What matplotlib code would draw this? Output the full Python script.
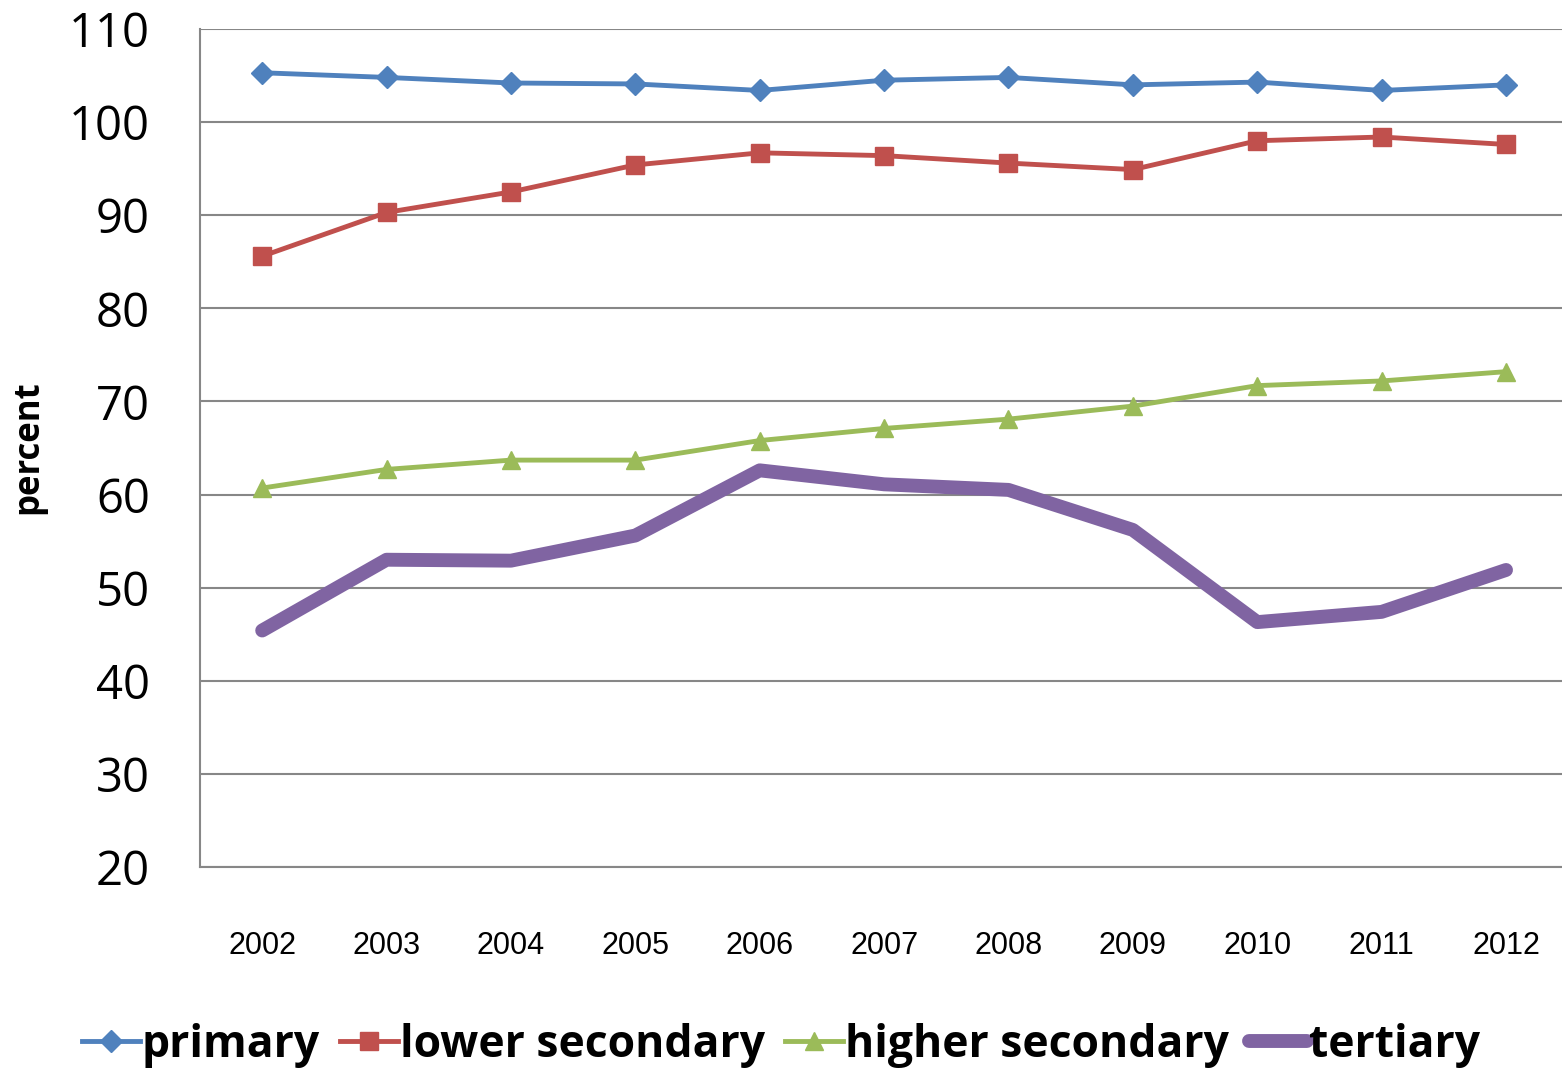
import matplotlib.pyplot as plt
import numpy as np

years = ["2002", "2003", "2004", "2005", "2006", "2007", "2008", "2009", "2010", "2011", "2012"]
primary = [105.3, 104.8, 104.2, 104.1, 103.4, 104.5, 104.8, 104.0, 104.3, 103.4, 104.0]
lower_secondary = [85.6, 90.3, 92.5, 95.4, 96.7, 96.4, 95.6, 94.9, 98.0, 98.4, 97.6]
higher_secondary = [60.7, 62.7, 63.7, 63.7, 65.8, 67.1, 68.1, 69.5, 71.7, 72.2, 73.2]
tertiary = [45.4, 53.0, 52.9, 55.6, 62.6, 61.1, 60.5, 56.2, 46.3, 47.4, 51.9]

plt.rcParams['font.family'] = ['Open Sans', 'DejaVu Sans']

fig = plt.figure(figsize=(15.62, 10.72), dpi=100)
ax = fig.add_axes([200 / 1562, 1 - 867 / 1072, 1 - 200 / 1562, (867 - 29) / 1072])

x = np.arange(len(years))
ax.plot(x, primary, color="#4F81BD", lw=3.5, marker="D", ms=11, label="primary")
ax.plot(x, lower_secondary, color="#C0504D", lw=3.5, marker="s", ms=13, label="lower secondary")
ax.plot(x, higher_secondary, color="#9BBB59", lw=3.5, marker="^", ms=13, label="higher secondary")
ax.plot(x, tertiary, color="#8064A2", lw=10, solid_capstyle="round", label="tertiary")

ax.set_xlim(-0.5, 10.45)
ax.set_ylim(20, 110)
ax.set_yticks(range(20, 111, 10))
ax.yaxis.grid(True, color="#878787", lw=1.5)
ax.set_axisbelow(True)
ax.set_xticks(x)
ax.set_xticklabels(years, family="Liberation Sans", fontsize=22)
ax.tick_params(axis="x", length=0, pad=46)
ax.tick_params(axis="y", length=0, pad=36, labelsize=34)
for s in ["top", "right"]:
    ax.spines[s].set_visible(False)
for s in ["left", "bottom"]:
    ax.spines[s].set_color("#878787")
    ax.spines[s].set_linewidth(1.5)

fig.text(28 / 1562, 1 - 447 / 1072, "percent", rotation=90, fontsize=25, fontweight="bold",
         ha="center", va="center")

leg = fig.legend(loc="center", bbox_to_anchor=(0.5, 1 - 1045 / 1072), ncol=4, frameon=False,
                 prop={"weight": "bold", "size": 32}, handlelength=1.3, handletextpad=0.05,
                 columnspacing=0.45)

fig.savefig("out.png", dpi=100)
